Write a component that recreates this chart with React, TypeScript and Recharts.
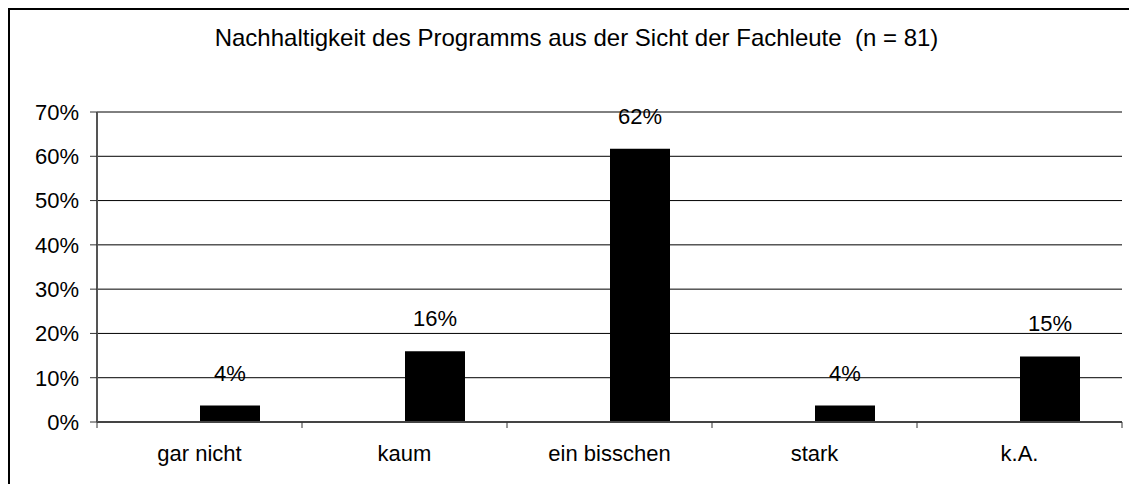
import { BarChart, Bar, XAxis, YAxis, CartesianGrid, LabelList } from "recharts"

const categories = ["gar nicht", "kaum", "ein bisschen", "stark", "k.A."]
// share of the 81 answers, in percent
const anteil = [3.7, 16.0, 61.7, 3.7, 14.8]
// empty first series, as in the original sheet (it keeps the bars right of centre)
const leer = [null, null, null, null, null]
const yTicks = [0, 10, 20, 30, 40, 50, 60, 70]

const title = "Nachhaltigkeit des Programms aus der Sicht der Fachleute  (n = 81)"

const data = categories.map((name, i) => ({
  name,
  leer: leer[i],
  anteil: anteil[i],
}))

const font = "'Liberation Sans', Arial, sans-serif"

function CategoryTick(props: any) {
  const { x, y, payload, index } = props
  const half = payload.offset ?? 0
  return (
    <g>
      {index === 0 && <line x1={x - half} y1={y} x2={x - half} y2={y + 6} stroke="#333" />}
      <line x1={x + half} y1={y} x2={x + half} y2={y + 6} stroke="#333" />
      <text x={x} y={y + 39} textAnchor="middle" fontSize={22} fontFamily={font} fill="#000">
        {payload.value}
      </text>
    </g>
  )
}

export default function App() {
  return (
    <div
      style={{
        position: "relative",
        width: 1119,
        height: 474,
        borderLeft: "2px solid #000",
        borderTop: "2px solid #000",
        fontFamily: font,
      }}
    >
      <div
        style={{
          position: "absolute",
          top: 16,
          left: 0,
          width: 1133,
          textAlign: "center",
          fontSize: 24,
          lineHeight: "24px",
          whiteSpace: "pre",
          color: "#000",
        }}
      >
        {title}
      </div>
      <BarChart
        width={1119}
        height={474}
        data={data}
        margin={{ top: 102, right: 7, bottom: 0, left: 0 }}
        barGap={0}
        style={{ position: "absolute", left: 0, top: 0 }}
      >
        <CartesianGrid horizontal vertical={false} stroke="#000" strokeWidth={1} />
        <XAxis
          dataKey="name"
          height={62}
          tickLine={false}
          tickSize={0}
          tickMargin={0}
          tick={<CategoryTick />}
          axisLine={{ stroke: "#444", strokeWidth: 2 }}
          interval={0}
        />
        <XAxis
          xAxisId="top"
          dataKey="name"
          orientation="top"
          height={0}
          tick={false}
          tickLine={false}
          axisLine={{ stroke: "#8c8c8c", strokeWidth: 2.5 }}
        />
        <YAxis
          width={87}
          domain={[0, 70]}
          ticks={yTicks}
          interval={0}
          tickFormatter={(v: number) => `${v}%`}
          tickSize={7}
          tickMargin={11}
          tickLine={{ stroke: "#333" }}
          axisLine={{ stroke: "#555", strokeWidth: 2 }}
          tick={{ fontSize: 22, fontFamily: font, fill: "#000" }}
        />
        <YAxis
          yAxisId="right"
          orientation="right"
          width={0}
          domain={[0, 70]}
          tick={false}
          tickLine={false}
          axisLine={{ stroke: "#8c8c8c", strokeWidth: 2.5 }}
        />
        <Bar dataKey="leer" barSize={60} fill="#000" isAnimationActive={false} />
        <Bar dataKey="anteil" barSize={60} fill="#000" isAnimationActive={false}>
          <LabelList
            dataKey="anteil"
            position="top"
            offset={25}
            formatter={(v: any) => `${Math.round(Number(v))}%`}
            style={{ fontSize: 22, fontFamily: font, fill: "#000" }}
          />
        </Bar>
      </BarChart>
    </div>
  )
}
